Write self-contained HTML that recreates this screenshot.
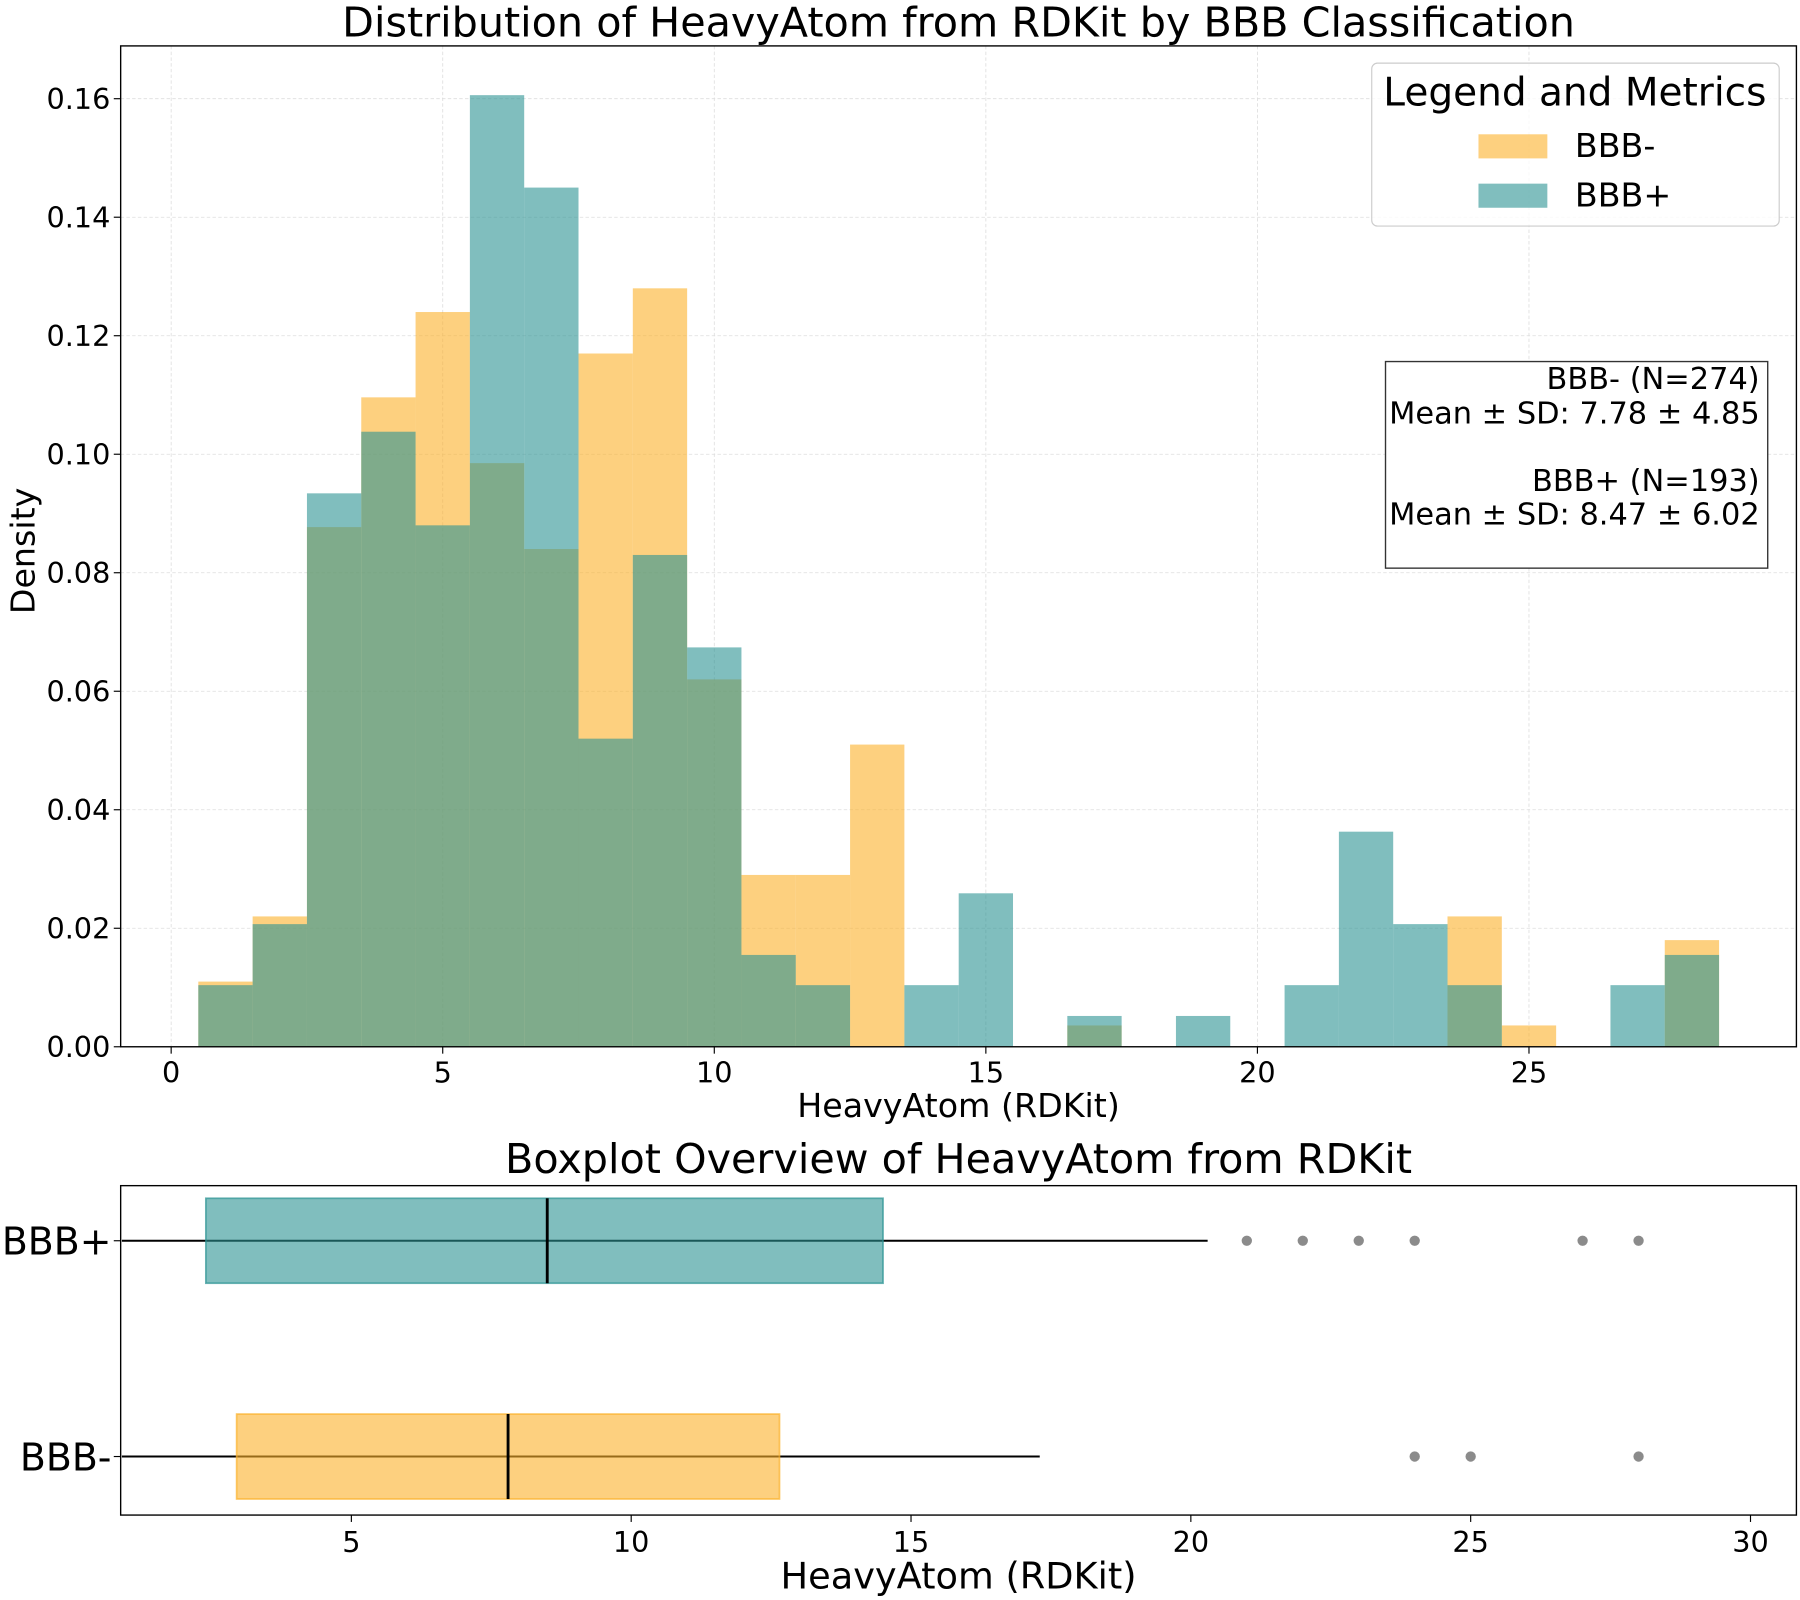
<!DOCTYPE html>
<html><head><meta charset="utf-8"><style>html,body{margin:0;padding:0;background:#fff}svg{display:block}text{font-family:"DejaVu Sans","Liberation Sans",sans-serif}</style></head>
<body>
<svg id="chart" width="1800" height="1600" viewBox="0 0 1568 1394" xmlns="http://www.w3.org/2000/svg">
<rect width="1568" height="1394" fill="#fff"/>
<g id="hist"></g>
<g id="box"></g>
</svg>
<script>
const binCenters = [1,2,3,4,5,6,7,8,9,10,11,12,13,14,15,16,17,18,19,20,21,22,23,24,25,26,27,28];
const densNeg = [0.011,0.022,0.0877,0.1096,0.124,0.0985,0.084,0.117,0.128,0.062,0.029,0.029,0.051,0,0,0,0.0036,0,0,0,0,0,0,0.022,0.0036,0,0,0.018];
const densPos = [0.0104,0.0207,0.0934,0.1038,0.088,0.1606,0.145,0.052,0.083,0.0674,0.0155,0.0104,0,0.0104,0.0259,0,0.0052,0,0.0052,0,0.0104,0.0363,0.0207,0.0104,0,0,0.0104,0.0155];
const xTicksTop = [0,5,10,15,20,25];
const yTicksTop = [0,0.02,0.04,0.06,0.08,0.10,0.12,0.14,0.16];
const yTickLabels = ["0.00","0.02","0.04","0.06","0.08","0.10","0.12","0.14","0.16"];
const boxGroups = ["BBB+","BBB-"];
const boxStats = [[0.9,2.4,8.5,14.5,20.3],[0.9,2.95,7.8,12.65,17.3]];
const outliersPos = [21,22,23,24,27,28];
const outliersNeg = [24,25,28];
const xTicksBot = [5,10,15,20,25,30];

const NS="http://www.w3.org/2000/svg";
function el(parent,tag,attrs,txt){const e=document.createElementNS(NS,tag);for(const k in attrs)e.setAttribute(k,attrs[k]);if(txt!==undefined)e.textContent=txt;parent.appendChild(e);return e;}
const ORANGE="#FBB12A", TEAL="#2B9393";

const H=document.getElementById('hist');
const L=105,R=1565,T=40,B=912;
const sx=v=>149+v*47.32, sy=v=>B-v*5162.5;
el(H,'rect',{x:L,y:T,width:R-L,height:B-T,fill:'#fff'});
xTicksTop.forEach(t=>{const g=el(H,'line',{x1:sx(t),x2:sx(t),y1:T,y2:B,stroke:'#ddd','stroke-width':0.7,'stroke-dasharray':'3,2'});
});
yTicksTop.forEach(t=>{const g=el(H,'line',{x1:L,x2:R,y1:sy(t),y2:sy(t),stroke:'#ddd','stroke-width':0.7,'stroke-dasharray':'3,2'});
});
binCenters.forEach((c,i)=>{
 if(densNeg[i]>0){const r=el(H,'rect',{x:sx(c-0.5),y:sy(densNeg[i]),width:47.32,height:densNeg[i]*5162.5,fill:ORANGE,'fill-opacity':0.6});
 }
});
binCenters.forEach((c,i)=>{
 if(densPos[i]>0){const r=el(H,'rect',{x:sx(c-0.5),y:sy(densPos[i]),width:47.32,height:densPos[i]*5162.5,fill:TEAL,'fill-opacity':0.6});
 }
});
el(H,'rect',{x:L,y:T,width:R-L,height:B-T,fill:'none',stroke:'#000','stroke-width':1.2});
xTicksTop.forEach(t=>{el(H,'line',{x1:sx(t),x2:sx(t),y1:B,y2:B+6,stroke:'#000'});
 const tx=el(H,'text',{x:sx(t),y:B+31,'font-size':25,'text-anchor':'middle'},String(t));
 });
yTicksTop.forEach((t,i)=>{el(H,'line',{x1:L-6,x2:L,y1:sy(t),y2:sy(t),stroke:'#000'});
 const tx=el(H,'text',{x:L-9,y:sy(t)+9,'font-size':25,'text-anchor':'end'},yTickLabels[i]);
 });
</script>
<script>
(function(){
const H=document.getElementById('hist');
function t(x,y,s,txt,anchor,name,extra){const e=document.createElementNS("http://www.w3.org/2000/svg",'text');e.setAttribute('x',x);e.setAttribute('y',y);e.setAttribute('font-size',s);e.setAttribute('text-anchor',anchor||'middle');if(extra)e.setAttribute('transform',extra);e.textContent=txt;
H.appendChild(e);return e;}
t(835,32,36,'Distribution of HeavyAtom from RDKit by BBB Classification','middle','chart-title');
t(835,973,29,'HeavyAtom (RDKit)','middle','x-axis-title');
t(30,480,29,'Density','middle','y-axis-title','rotate(-90 30 480)');
})();
</script>
<script>
(function(){
const S=document.getElementById('chart');
const NS="http://www.w3.org/2000/svg";
function mk(tag,a,txt){const e=document.createElementNS(NS,tag);for(const k in a)e.setAttribute(k,a[k]);if(txt!==undefined)e.textContent=txt;S.appendChild(e);return e;}
const lg=mk('rect',{x:1195,y:55,width:355,height:142,rx:5,fill:'#fff','fill-opacity':0.8,stroke:'#ccc'});

let e=mk('text',{x:1372,y:92,'font-size':34,'text-anchor':'middle'},'Legend and Metrics');

e=mk('rect',{x:1288,y:117,width:60,height:21,fill:'#FBB12A','fill-opacity':0.6});

e=mk('text',{x:1372,y:137,'font-size':29},'BBB-');

e=mk('rect',{x:1288,y:160,width:60,height:21,fill:'#2B9393','fill-opacity':0.6});

e=mk('text',{x:1372,y:180,'font-size':29},'BBB+');

e=mk('rect',{x:1207,y:315,width:333,height:180,fill:'#fff',stroke:'#333','stroke-width':1.2});

const lines=[['BBB- (N=274)',339],['Mean ± SD: 7.78 ± 4.85',369],['BBB+ (N=193)',428],['Mean ± SD: 8.47 ± 6.02',457]];
lines.forEach(l=>{e=mk('text',{x:1533,y:l[1],'font-size':26.5,'text-anchor':'end'},l[0]);
});

const L=105,R=1565,T=1033,B=1320;
const sx=v=>62.2+v*48.76;
const ys=[1081,1269];
const cols=['#2B9393','#FBB12A'];
const outs=[outliersPos,outliersNeg];
e=mk('text',{x:835,y:1022,'font-size':36,'text-anchor':'middle'},'Boxplot Overview of HeavyAtom from RDKit');

boxGroups.forEach((g,i)=>{
 const s=boxStats[i],y=ys[i];
 e=mk('line',{x1:Math.max(L,sx(s[0])),x2:sx(s[4]),y1:y,y2:y,stroke:'#000','stroke-width':1.8});
 
 e=mk('rect',{x:sx(s[1]),y:y-37,width:sx(s[3])-sx(s[1]),height:74,fill:cols[i],'fill-opacity':0.6,stroke:cols[i],'stroke-opacity':0.7,'stroke-width':1.5});
 
 e=mk('line',{x1:sx(s[2]),x2:sx(s[2]),y1:y-37,y2:y+37,stroke:'#000','stroke-width':2.5});
 
 outs[i].forEach(o=>{e=mk('circle',{cx:sx(o),cy:y,r:4.5,fill:'#777','fill-opacity':0.85});
 });
 mk('line',{x1:L-6,x2:L,y1:y,y2:y,stroke:'#000'});
 e=mk('text',{x:L-8,y:y+12,'font-size':33,'text-anchor':'end'},g);
 
});
mk('rect',{x:L,y:T,width:R-L,height:B-T,fill:'none',stroke:'#000','stroke-width':1.2});
xTicksBot.forEach(tk=>{mk('line',{x1:sx(tk),x2:sx(tk),y1:B,y2:B+6,stroke:'#000'});
 e=mk('text',{x:sx(tk),y:B+32,'font-size':25,'text-anchor':'middle'},String(tk));
 });
e=mk('text',{x:835,y:1384,'font-size':32,'text-anchor':'middle'},'HeavyAtom (RDKit)');

})();
</script>
</body></html>
